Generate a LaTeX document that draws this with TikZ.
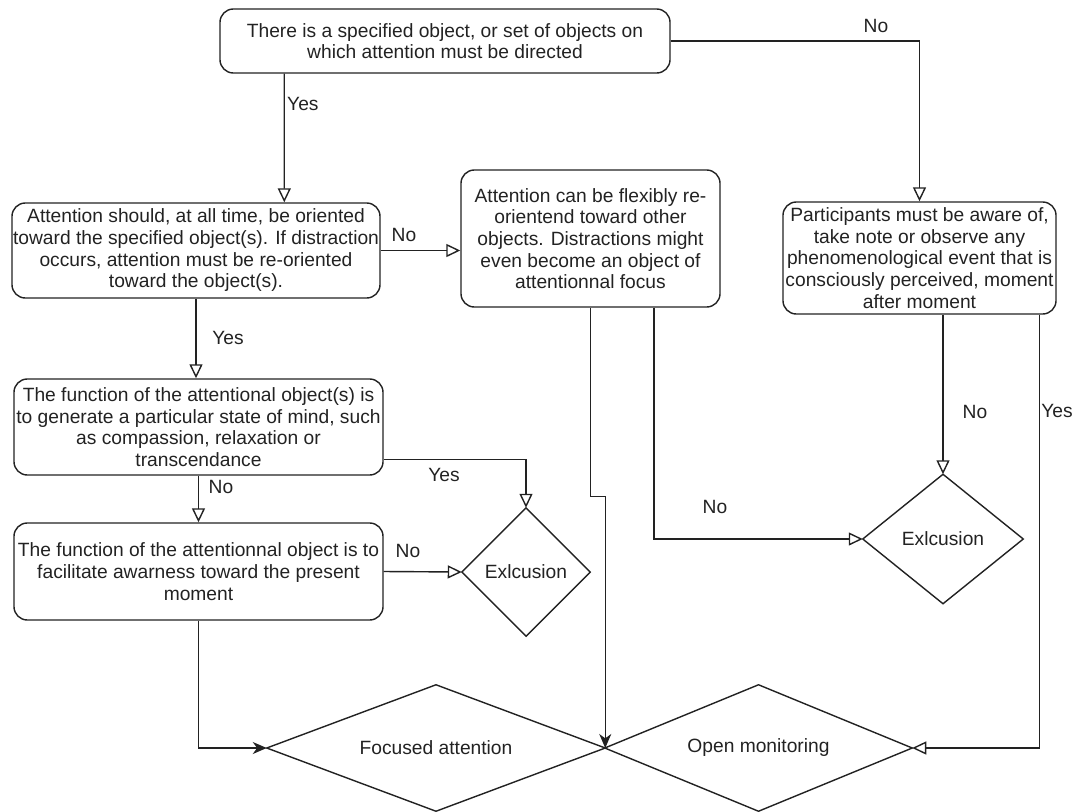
\documentclass[tikz,border=0pt]{standalone}
\usepackage{fontspec}
\setmainfont{Liberation Sans}
\usetikzlibrary{arrows.meta,calc}
\definecolor{ink}{HTML}{222222}
\tikzset{
  x=0.03cm, y=-0.03cm,
  every node/.style={text=ink, font=\fontsize{16.4}{18.5}\selectfont},
  box/.style={draw=ink, line width=1.2pt, rounded corners=0.4cm, align=center, inner sep=0pt},
  dia/.style={draw=none, inner sep=0pt, align=center},
  conn/.style={draw=ink, line width=1.2pt},
  oa/.style={conn, -{Triangle[open, length=4.2mm, width=3.9mm]}},
  fa/.style={conn, -{Stealth[length=4.2mm, width=3.6mm, inset=1.3mm]}},
  lbl/.style={inner sep=0pt}
}
\begin{document}
\begin{tikzpicture}
\useasboundingbox (0,0) rectangle (1074,811);
% boxes
\node[box, minimum width=13.5cm, minimum height=1.92cm] (top) at (445,41)
  {There is a specified object, or set of objects on\\which attention must be directed};
\node[box, minimum width=11.04cm, minimum height=2.85cm] (b2) at (196,250.5)
  {Attention should, at all time, be oriented\\toward the specified object(s). If distraction\\occurs, attention must be re-oriented\\toward the object(s).};
\node[box, minimum width=7.77cm, minimum height=4.11cm] (b3) at (590.5,238.5)
  {Attention can be flexibly re-\\orientend toward other\\objects. Distractions might\\even become an object of\\attentionnal focus};
\node[box, minimum width=8.19cm, minimum height=3.36cm] (b4) at (919.5,258)
  {Participants must be aware of,\\take note or observe any\\phenomenological event that is\\consciously perceived, moment\\after moment};
\node[box, minimum width=11.07cm, minimum height=2.88cm] (b5) at (198.5,427)
  {The function of the attentional object(s) is\\to generate a particular state of mind, such\\as compassion, relaxation or\\transcendance};
\node[box, minimum width=11.07cm, minimum height=2.91cm] (b6) at (198.5,571.5)
  {The function of the attentionnal object is to\\facilitate awarness toward the present\\moment};
% diamonds
\node[dia, minimum width=3.84cm, minimum height=3.84cm] (ex1) at (526,572) {Exlcusion};
\node[dia, minimum width=4.8cm, minimum height=3.87cm] (ex2) at (943,539) {Exlcusion};
\node[dia, minimum width=10.14cm, minimum height=3.78cm] (fa) at (436,748) {Focused attention};
\node[dia, minimum width=9.21cm, minimum height=3.78cm] (om) at (758.5,748) {Open monitoring};
\foreach \d in {ex1,ex2,fa,om}{
  \draw[conn] (\d.west) -- (\d.north) -- (\d.east) -- (\d.south) -- cycle;
}
% connectors
\draw[oa] ($(top.south west)+(65,0)$) -- ($(b2.north west)+(273,0)$);
\node[lbl, anchor=west] (l1) at (287,104) {Yes};
\draw[oa] (top.east) -| (b4.north);
\node[lbl] (l2) at (876,26) {No};
\draw[oa] (b2.east) -- (b2.east -| b3.west);
\node[lbl] (l3) at (404,235) {No};
\draw[oa] (b2.south) -- (b2.south |- b5.north);
\node[lbl] (l4) at (228,338) {Yes};
\draw[oa] ($(b5.south east)+(0,-16)$) -| (ex1.north);
\node[lbl] (l5) at (444,475) {Yes};
\draw[oa] (b5.south) -- (b6.north);
\node[lbl] (l6) at (221,487) {No};
\draw[oa] (b6.east) -- (ex1.west);
\node[lbl] (l7) at (408,551) {No};
\draw[fa] (b6.south) |- (fa.west);
\draw[fa] (b3.south) -- ++(0,189) -| (fa.east);
\draw[oa] ($(b3.south)+(63.5,0)$) |- (ex2.west);
\node[lbl] (l8) at (715,507) {No};
\draw[oa] (ex2.north |- b4.south) -- (ex2.north);
\node[lbl] (l9) at (975,412) {No};
\draw[oa] ($(b4.south east)+(-17,0)$) |- (om.east);
\node[lbl] (l10) at (1057,411) {Yes};
\end{tikzpicture}
\end{document}
